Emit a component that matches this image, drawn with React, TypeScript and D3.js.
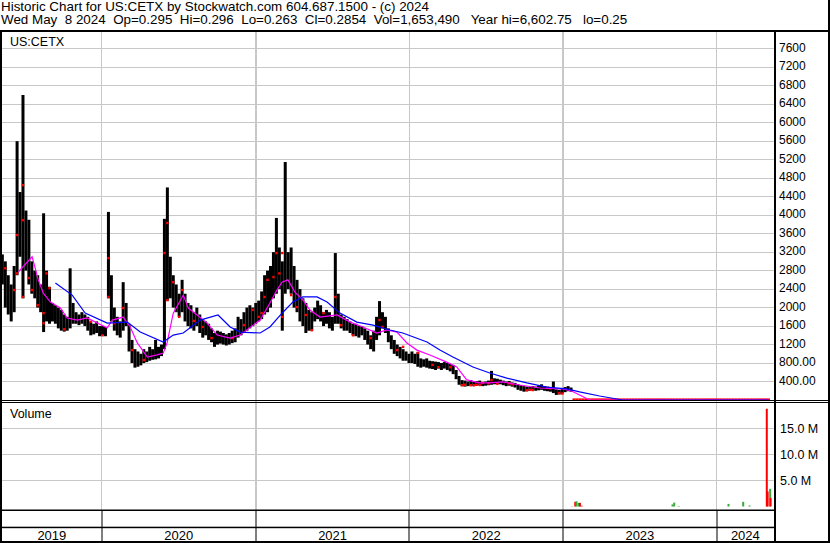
import React, { useEffect, useRef } from 'react';
import * as d3 from 'd3';

const WIDTH = 830;
const HEIGHT = 543;

const headerLines = [
  'Historic Chart for US:CETX by Stockwatch.com 604.687.1500 - (c) 2024',
  'Wed May  8 2024  Op=0.295  Hi=0.296  Lo=0.263  Cl=0.2854  Vol=1,653,490   Year hi=6,602.75   lo=0.25',
];
const symbol = 'US:CETX';

// weekly bars, first one in the week of 2019-05-10
const firstWeek = '2019-05-10';
const weeklyHigh = [
  3150, 3000, 2700, 2500, 2900, 5600, 4500, 6600, 4100, 3900,
  3000, 2800, 2700, 2500, 4040, 2800, 2450, 2100, 2050, 2000,
  1950, 1850, 1800, 2850, 2100, 1900, 1850, 1900, 1850, 1800,
  1700, 1650, 1700, 1600, 1600, 1580,
  4070, 2700, 2000, 1800, 1700,
  2550, 2100, 1650, 1300, 1100, 1050, 1000, 1100, 1050, 1150,
  1100, 1300, 1150, 1200, 3920, 4600, 3100, 2700, 2500, 2300,
  2600, 2300, 2100, 2050, 1900, 2000, 1850, 1750, 1700, 1650,
  1550, 1450, 1500, 1480, 1450, 1420, 1450, 1500, 1550, 1800,
  1750, 1900, 2000, 2050, 2000, 2100, 2150, 2350, 2700, 2800,
  2900, 3200, 3940, 3300, 3000, 5150, 3200, 3300, 2900, 2600, 2400,
  2200, 2100, 1950, 1900, 2000, 2150, 2050, 1900, 1950, 1900,
  1800, 3180, 2300, 1850, 1800, 1750, 1700, 1650, 1650, 1600,
  1600, 1550, 1500, 1400, 1500, 1800, 2140, 1900, 1800, 1550,
  1400, 1300, 1200, 1150, 1100, 1050, 1000, 1050, 1000, 1030,
  900, 880, 900, 850, 840,
  830, 820, 800, 820, 800, 780,
  760, 650, 520, 430, 420, 400, 430, 390, 410, 420,
  380, 400, 420, 630, 470, 460, 440, 420, 400, 410,
  380, 370, 340, 320, 300, 290, 280, 300, 290, 310,
  340, 300, 290, 280, 400, 230, 220, 250, 280, 300, 270,
  0.62, 0.55, 0.58, 0.5, 0.48, 0.5, 0.46, 0.45, 0.47, 0.43,
  0.41, 0.44, 0.42, 0.4, 0.43, 0.45, 0.41, 0.39, 0.38, 0.4,
  0.42, 0.39, 0.37, 0.36, 0.38, 0.37, 0.35, 0.36, 0.39, 0.37,
  0.34, 0.35, 0.36, 0.34, 0.33, 0.35, 0.37, 0.36, 0.34, 0.33,
  0.32, 0.34, 0.35, 0.33, 0.32, 0.31, 0.33, 0.34, 0.32, 0.31,
  0.33, 0.35, 0.34, 0.32, 0.31, 0.3, 0.32, 0.31, 0.33, 0.34,
  0.32, 0.31, 0.3, 0.32, 0.31, 0.31, 0.296,
];
const weeklyLow = [
  2500, 2000, 1850, 1700, 1900, 2700, 3100, 2200, 2800, 2500,
  2300, 2200, 2000, 1900, 1470, 1700, 1650, 1700, 1650, 1550,
  1500, 1480, 1500, 1550, 1650, 1650, 1620, 1650, 1600, 1500,
  1400, 1420, 1450, 1380, 1400, 1380,
  2200, 1700, 1500, 1400, 1350,
  1500, 1600, 1050, 800, 700, 720, 750, 800, 820, 850,
  870, 880, 900, 950, 1100, 2150, 2200, 2000, 1900, 1800,
  1900, 1700, 1600, 1550, 1500, 1600, 1450, 1350, 1400, 1300,
  1250, 1150, 1200, 1220, 1200, 1180, 1200, 1230, 1250, 1350,
  1400, 1450, 1500, 1550, 1600, 1650, 1700, 1750, 1850, 1900,
  2000, 2200, 2300, 2400, 1500, 2300, 2400, 2300, 2000, 1900, 1700,
  1600, 1450, 1500, 1500, 1700, 1750, 1700, 1600, 1650, 1550,
  1500, 1650, 1650, 1550, 1500, 1500, 1450, 1400, 1380, 1350,
  1400, 1300, 1200, 1100, 1050, 1300, 1400, 1550, 1450, 1250,
  1100, 1000, 950, 900, 850, 850, 800, 800, 780, 720,
  700, 720, 700, 680, 670,
  650, 680, 650, 680, 650, 620,
  560, 450, 330, 300, 290, 300, 310, 300, 310, 320,
  300, 310, 320, 330, 340, 350, 340, 320, 300, 310,
  290, 270, 220, 200, 180, 190, 200, 210, 200, 210,
  220, 200, 190, 180, 150, 110, 120, 140, 170, 190, 180,
  0.45, 0.44, 0.46, 0.41, 0.4, 0.41, 0.39, 0.38, 0.39, 0.36,
  0.35, 0.37, 0.35, 0.34, 0.36, 0.37, 0.34, 0.33, 0.32, 0.33,
  0.35, 0.32, 0.31, 0.3, 0.32, 0.31, 0.29, 0.3, 0.32, 0.3,
  0.28, 0.29, 0.3, 0.28, 0.27, 0.29, 0.3, 0.29, 0.28, 0.27,
  0.26, 0.28, 0.29, 0.27, 0.26, 0.25, 0.27, 0.28, 0.26, 0.25,
  0.27, 0.29, 0.28, 0.26, 0.26, 0.25, 0.26, 0.25, 0.27, 0.28,
  0.26, 0.25, 0.25, 0.26, 0.25, 0.26, 0.263,
];

// red close marks: [week, price]
const redTicks: [number, number][] = [
  [1, 2850], [4, 2380], [5, 2740], [5, 3570], [7, 4650], [7, 3890], [7, 2230], [9, 2640],
  [10, 2380], [12, 2050], [14, 1880], [14, 1660], [15, 2740], [16, 2420], [21, 1530], [30, 1690],
  [34, 1400], [36, 3070], [36, 2230], [38, 1660], [41, 1990], [44, 1080], [48, 865], [55, 3180],
  [56, 3830], [56, 2160], [58, 2550], [60, 1800], [61, 2380], [65, 1710], [68, 1580], [71, 1340],
  [78, 1340], [82, 1620], [85, 1950], [87, 1800], [88, 1880], [89, 2230], [90, 2600], [92, 2660],
  [93, 3180], [94, 2740], [95, 3180], [95, 1800], [98, 2270], [100, 2010], [103, 1840], [105, 1510],
  [109, 1880], [113, 2230], [115, 1620], [119, 1400], [125, 1340], [128, 1730], [129, 1580], [134, 1080],
  [136, 1150], [141, 1020], [146, 760], [148, 710], [152, 710], [156, 320], [157, 330], [159, 320],
  [160, 320], [161, 330], [162, 325], [163, 370], [165, 360], [166, 430], [168, 350], [172, 360],
  [173, 340], [178, 210], [179, 220], [180, 215], [185, 260], [186, 250], [189, 150], [190, 140],
];

// moving averages: [week, price]
const maShort: [number, number][] = [
  [5.5, 2775], [10.1, 3100], [12.2, 2600], [13.9, 2310], [16.3, 2120], [19.7, 1990], [22, 1775],
  [25.4, 1730], [28.8, 1775], [32.2, 1665], [35.6, 1560], [37.3, 1730], [41, 1795], [43.4, 1580],
  [45.8, 1235], [49.2, 930], [52.5, 975], [54.6, 1015], [55.9, 1235], [58, 1880], [61.4, 2270],
  [63.1, 1990], [66.1, 1840], [69.5, 1665], [72.9, 1405], [77.3, 1340], [80.7, 1405], [85.1, 1620],
  [87.5, 1730], [90.8, 2100], [93.2, 2380], [94.9, 2550], [96.9, 2600], [99.3, 2335], [102, 2165],
  [104.4, 1945], [107.8, 1795], [113.6, 1840], [118, 1685], [122.4, 1580], [127.1, 1450], [130.5, 1515],
  [133.9, 1470], [137.3, 1235], [140.7, 1080], [145.1, 975], [150.8, 820], [154.2, 715], [157.6, 435],
  [162, 370], [165.4, 370], [169.8, 390], [175.6, 325], [182.4, 260], [190.2, 240], [193.2, 195],
  [195.9, 110], [199.3, 0.4], [260, 0.3],
];
const maLong: [number, number][] = [
  [18, 2530], [23.7, 2270], [28.1, 1880], [35.6, 1665], [42.4, 1685], [46.8, 1470], [54.6, 1255],
  [58, 1405], [61.4, 1450], [67.1, 1730], [73.2, 1840], [77.3, 1580], [80.7, 1470], [87.5, 1450],
  [90.8, 1580], [95.3, 1905], [98.6, 2120], [102, 2230], [106.8, 2230], [110.2, 2120], [114.6, 1880],
  [120.3, 1685], [125.8, 1620], [131.5, 1515], [135.9, 1450], [144.1, 1255], [148.5, 1080], [152.9, 930],
  [159.7, 715], [165.4, 585], [171.2, 475], [178, 370], [184.7, 280], [191.5, 240], [195.9, 175],
  [202.7, 87], [210.5, 0.4], [260, 0.3],
];

// daily volume: [date, shares, direction]
const volumeBars: [string, number, 'up' | 'down'][] = [
  ['2023-01-23', 60000, 'up'], ['2023-01-30', 900000, 'down'], ['2023-02-02', 1000000, 'up'],
  ['2023-02-07', 700000, 'up'], ['2023-02-10', 700000, 'down'], ['2023-02-14', 150000, 'down'],
  ['2023-09-18', 400000, 'up'], ['2023-09-22', 750000, 'up'], ['2023-10-03', 100000, 'up'],
  ['2024-01-29', 500000, 'up'], ['2024-03-04', 900000, 'up'], ['2024-03-19', 200000, 'up'],
  ['2024-04-29', 18800000, 'down'], ['2024-05-01', 2900000, 'down'], ['2024-05-07', 3400000, 'up'],
  ['2024-05-08', 1650000, 'down'],
];

const priceTicks = [400, 800, 1200, 1600, 2000, 2400, 2800, 3200, 3600, 4000,
  4400, 4800, 5200, 5600, 6000, 6400, 6800, 7200, 7600];
const priceTickLabels = ['400.00', '800.00', '1200', '1600', '2000', '2400', '2800', '3200', '3600', '4000',
  '4400', '4800', '5200', '5600', '6000', '6400', '6800', '7200', '7600'];
const volumeTicks = [5e6, 10e6, 15e6];
const volumeTickLabels = ['5.0 M', '10.0 M', '15.0 M'];
const years = [2019, 2020, 2021, 2022, 2023, 2024];

const FONT = '"Liberation Sans", Arial, Helvetica, sans-serif';

const StockwatchChart: React.FC = () => {
  const svgRef = useRef<SVGSVGElement>(null);

  useEffect(() => {
    document.body.style.margin = '0';
    if (!svgRef.current) return;

    const svg = d3.select(svgRef.current);
    svg.selectAll('*').remove();

    const plotLeft = 2;
    const plotRight = 774;
    const priceTop = 31;
    const volBottom = 510;
    const axisMid = 527.5;
    const axisBottom = 541;

    const start = d3.utcParse('%Y-%m-%d')(firstWeek)!;
    const weekDate = (i: number) => new Date(start.getTime() + i * 7 * 864e5);
    const parse = d3.utcParse('%Y-%m-%d');
    const jan1 = (yr: number) => new Date(Date.UTC(yr, 0, 1));

    const x = d3.scaleUtc().domain([jan1(2020), jan1(2024)]).range([101.7, 716.7]);
    const y = d3.scaleLinear().domain([0, 8000]).range([400, 30.3]);
    const yVol = d3.scaleLinear().domain([0, 20e6]).range([506.5, 402.5]);

    svg.append('rect').attr('width', WIDTH).attr('height', HEIGHT).attr('fill', '#fff');

    // Grid
    const grid = svg.append('g').attr('stroke', '#c8c8c8').attr('shape-rendering', 'crispEdges');
    years.slice(1).forEach(yr => {
      grid.append('line')
        .attr('x1', x(jan1(yr))).attr('x2', x(jan1(yr)))
        .attr('y1', priceTop).attr('y2', volBottom)
        .attr('stroke-width', 1.5);
    });
    priceTicks.forEach(v => {
      grid.append('line')
        .attr('x1', plotLeft).attr('x2', plotRight)
        .attr('y1', y(v)).attr('y2', y(v));
    });
    volumeTicks.forEach(v => {
      grid.append('line')
        .attr('x1', plotLeft).attr('x2', plotRight)
        .attr('y1', yVol(v)).attr('y2', yVol(v));
    });

    // Price bars
    const bars = weeklyHigh.map((hi, i) => ({ date: weekDate(i), hi, lo: weeklyLow[i] }));
    svg.append('g')
      .selectAll('rect')
      .data(bars)
      .join('rect')
      .attr('x', d => x(d.date) - 1.5)
      .attr('width', 3)
      .attr('y', d => Math.min(y(d.hi), y(d.lo) - 1.6))
      .attr('height', d => Math.max(1.6, y(d.lo) - y(d.hi)))
      .attr('fill', d => (d.hi < 5 ? '#ff0000' : '#000'));

    svg.append('g')
      .selectAll('rect')
      .data(redTicks)
      .join('rect')
      .attr('x', d => x(weekDate(d[0])) - 1.2)
      .attr('y', d => y(d[1]) - 1.2)
      .attr('width', 2.4)
      .attr('height', 2.4)
      .attr('fill', '#ff0000');

    // Moving averages
    const maLine = d3.line<[number, number]>()
      .x(d => x(weekDate(d[0])))
      .y(d => y(d[1]));
    svg.append('path').datum(maShort).attr('d', maLine)
      .attr('fill', 'none').attr('stroke', '#ff00ff').attr('stroke-width', 1.2);
    svg.append('path').datum(maLong).attr('d', maLine)
      .attr('fill', 'none').attr('stroke', '#0000ff').attr('stroke-width', 1.2);

    // Volume
    svg.append('g')
      .selectAll('rect')
      .data(volumeBars)
      .join('rect')
      .attr('x', d => x(parse(d[0])!) - 1)
      .attr('width', 2)
      .attr('y', d => yVol(d[1]))
      .attr('height', d => yVol(0) - yVol(d[1]))
      .attr('fill', d => (d[2] === 'up' ? '#3aaa3a' : '#ff0000'));

    // Frame
    const frame = svg.append('g').attr('fill', '#000');
    frame.append('rect').attr('x', 0).attr('y', 30).attr('width', WIDTH).attr('height', 2);
    frame.append('rect').attr('x', 0).attr('y', 30).attr('width', 2).attr('height', HEIGHT - 30);
    frame.append('rect').attr('x', 828).attr('y', 0).attr('width', 2).attr('height', HEIGHT);
    frame.append('rect').attr('x', 0).attr('y', 541).attr('width', WIDTH).attr('height', 2);
    frame.append('rect').attr('x', plotRight).attr('y', 30).attr('width', 2).attr('height', HEIGHT - 30);
    frame.append('rect').attr('x', 0).attr('y', 400).attr('width', WIDTH).attr('height', 1);
    frame.append('rect').attr('x', 0).attr('y', 402).attr('width', WIDTH).attr('height', 1);
    frame.append('rect').attr('x', 0).attr('y', volBottom - 0.5).attr('width', plotRight).attr('height', 1.5);
    frame.append('rect').attr('x', 0).attr('y', axisMid - 0.8).attr('width', plotRight).attr('height', 1.5);
    years.slice(1).forEach(yr => {
      frame.append('rect')
        .attr('x', Math.round(x(jan1(yr))) - 0.5).attr('y', volBottom)
        .attr('width', 1).attr('height', axisBottom - volBottom);
    });

    // Text
    const text = svg.append('g').attr('font-family', FONT).attr('fill', '#000');
    headerLines.forEach((t, i) => {
      text.append('text')
        .attr('x', 1).attr('y', 10.5 + i * 13.5)
        .attr('font-size', 13.4)
        .style('white-space', 'pre')
        .text(t);
    });
    text.append('text').attr('x', 10).attr('y', 46).attr('font-size', 12.5).text(symbol);
    text.append('text').attr('x', 10).attr('y', 417.5).attr('font-size', 12.5).text('Volume');

    priceTicks.forEach((v, i) => {
      text.append('text')
        .attr('x', 779).attr('y', y(v) + 3)
        .attr('font-size', 12)
        .text(priceTickLabels[i]);
    });
    volumeTicks.forEach((v, i) => {
      text.append('text')
        .attr('x', 780).attr('y', yVol(v) + 4.5)
        .attr('font-size', 12.5)
        .text(volumeTickLabels[i]);
    });
    years.forEach(yr => {
      const left = Math.max(plotLeft, x(jan1(yr)));
      const right = Math.min(plotRight, x(jan1(yr + 1)));
      text.append('text')
        .attr('x', (left + right) / 2).attr('y', 539.5)
        .attr('text-anchor', 'middle')
        .attr('font-size', 13)
        .text(String(yr));
    });
  }, []);

  return <svg ref={svgRef} width={WIDTH} height={HEIGHT} style={{ display: 'block' }} />;
};

export default function App() {
  return <StockwatchChart />;
}
